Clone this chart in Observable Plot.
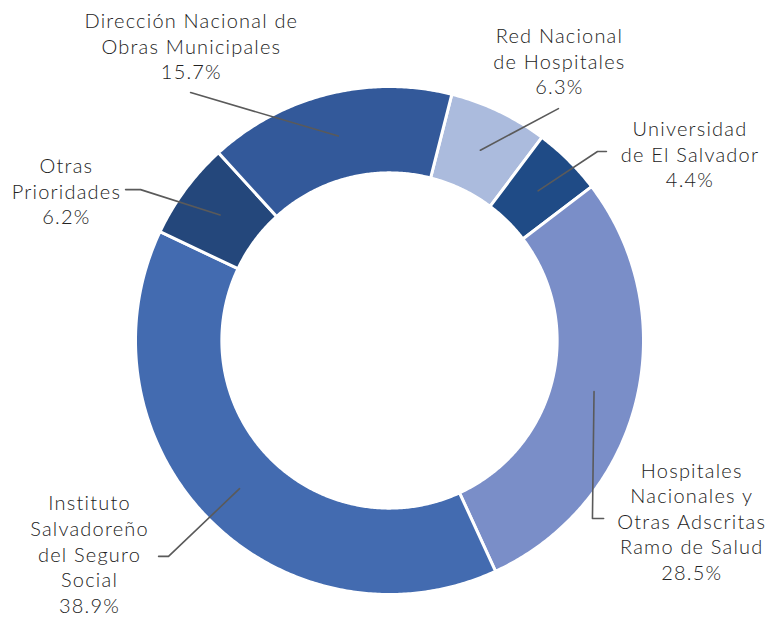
<!DOCTYPE html>
<html>
<head>
<meta charset="utf-8">
<script src="https://cdn.jsdelivr.net/npm/d3@7"></script>
<script src="https://cdn.jsdelivr.net/npm/@observablehq/plot@0.6"></script>
<style>
  html, body { margin: 0; padding: 0; background: #ffffff; }
  #chart svg { display: block; }
  #chart svg text { letter-spacing: 1.2px; }
</style>
</head>
<body>
<div id="chart"></div>
<script>
// ---- Data (clockwise order, starting just right of 12 o'clock) ----
const categories = [
  "Red Nacional de Hospitales",
  "Universidad de El Salvador",
  "Hospitales Nacionales y Otras Adscritas Ramo de Salud",
  "Instituto Salvadoreño del Seguro Social",
  "Otras Prioridades",
  "Dirección Nacional de Obras Municipales"
];
const shares = [6.3, 4.4, 28.5, 38.9, 6.2, 15.7];
const labelLines = [
  ["Red Nacional", "de Hospitales"],
  ["Universidad", "de El Salvador"],
  ["Hospitales", "Nacionales y", "Otras Adscritas", "Ramo de Salud"],
  ["Instituto", "Salvadoreño", "del Seguro", "Social"],
  ["Otras", "Prioridades"],
  ["Dirección Nacional de", "Obras Municipales"]
];
const colors = ["#abbbdd", "#1f4b86", "#7a8ec8", "#436bb0", "#24477b", "#33599a"];

// ---- Layout (chart units: ring outer radius = 1) ----
const startAngle = 14.2;      // degrees clockwise from 12 o'clock
const innerRadius = 0.66;
const leaderRadius = 0.83;
// label block centres
const labelX = [0.669, 1.183, 1.190, -1.181, -1.272, -0.780];
const labelY = [1.102, 0.736, -0.709, -0.838, 0.591, 1.161];
// leader path points after the slice anchor (elbow / end)
const leaderPts = [
  [[0.665, 0.913]],
  [[0.819, 0.744], [0.854, 0.744]],
  [[0.799, -0.701], [0.843, -0.701]],
  [[-0.870, -0.850], [-0.909, -0.850]],
  [[-0.980, 0.594], [-1.039, 0.594]],
  [[-0.783, 0.976]]
];

const total = d3.sum(shares);
const rad = (deg) => deg * Math.PI / 180;
const pt = (r, a) => ({ x: r * Math.sin(rad(a)), y: r * Math.cos(rad(a)) });

const slicePts = [];
const leaders = [];
const labels = [];
let acc = startAngle;
shares.forEach((v, i) => {
  const a0 = acc, a1 = acc + v / total * 360;
  acc = a1;
  const n = Math.max(4, Math.ceil((a1 - a0) / 0.5));
  for (let k = 0; k <= n; k++) {
    const p = pt(1, a0 + (a1 - a0) * k / n);
    slicePts.push({ name: categories[i], ...p });
  }
  for (let k = n; k >= 0; k--) {
    const p = pt(innerRadius, a0 + (a1 - a0) * k / n);
    slicePts.push({ name: categories[i], ...p });
  }
  const mid = (a0 + a1) / 2;
  leaders.push({ name: categories[i], ...pt(leaderRadius, mid) });
  leaderPts[i].forEach(([x, y]) => leaders.push({ name: categories[i], x, y }));
  labels.push({
    x: labelX[i], y: labelY[i],
    text: [...labelLines[i], v.toFixed(1) + "%"].join("\n")
  });
});

const W = 769, H = 617;
const cx = 389, cy = 340, R = 254;

const chart = Plot.plot({
  width: W,
  height: H,
  margin: 0,
  x: { domain: [-cx / R, (W - cx) / R], axis: null },
  y: { domain: [-(H - cy) / R, cy / R], axis: null },
  color: { domain: categories, range: colors },
  marks: [
    Plot.line(slicePts, {
      x: "x", y: "y", z: "name", fill: "name",
      stroke: "white", strokeWidth: 3, curve: "linear-closed"
    }),
    Plot.line(leaders, {
      x: "x", y: "y", z: "name",
      stroke: "#5a5a5a", strokeWidth: 1.6
    }),
    Plot.text(labels, {
      x: "x", y: "y", text: "text",
      textAnchor: "middle", lineAnchor: "middle", lineHeight: 1.28,
      fontSize: 20, fontFamily: "Lato", fontWeight: 300, fill: "#222222"
    })
  ]
});
document.getElementById("chart").appendChild(chart);
</script>
</body>
</html>
